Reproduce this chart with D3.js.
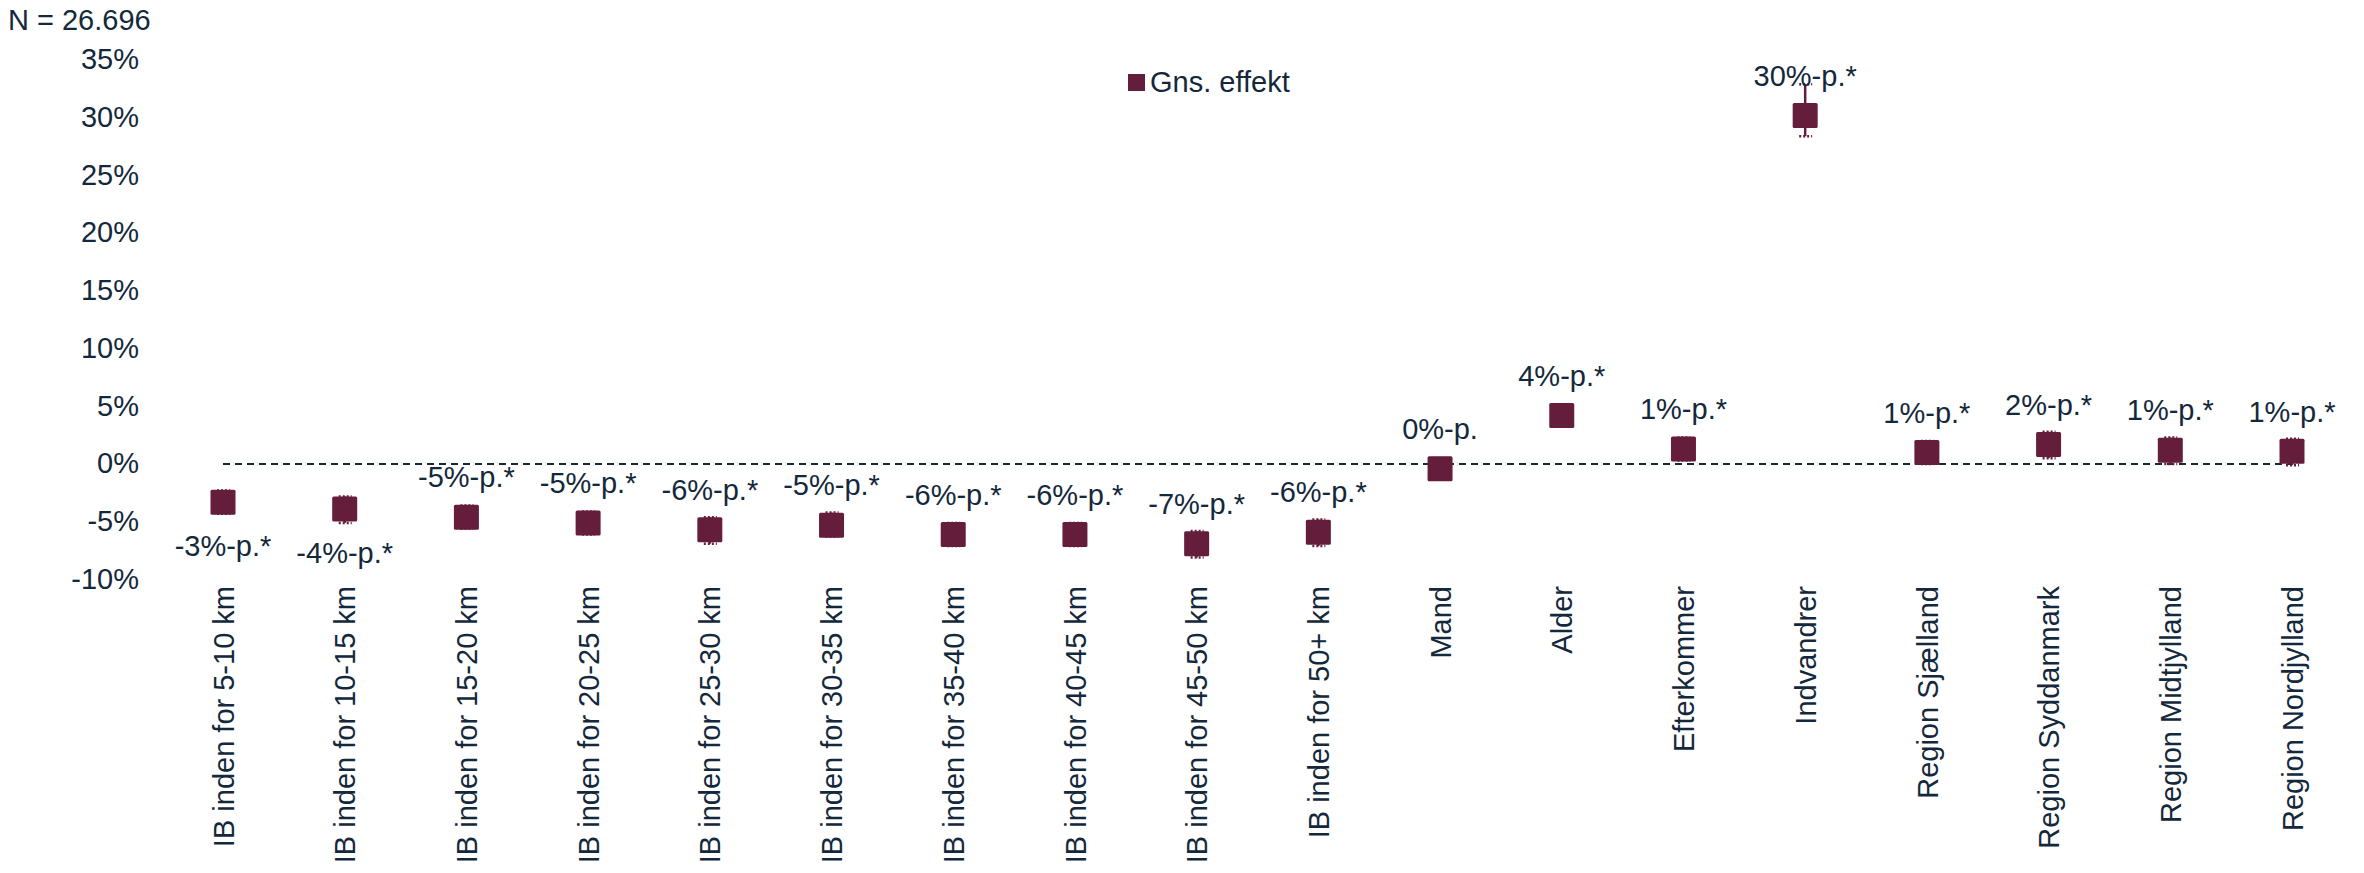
<!DOCTYPE html>
<html>
<head>
<meta charset="utf-8">
<script src="https://cdn.jsdelivr.net/npm/d3@7"></script>
<style>
  html, body { margin: 0; padding: 0; background: #ffffff; }
  svg { display: block; font-family: "Liberation Sans", Arial, sans-serif; }
</style>
</head>
<body>
<svg id="chart" width="2364" height="873"></svg>
<script>
// ---- data ----
const categories = [
  "IB inden for 5-10 km", "IB inden for 10-15 km", "IB inden for 15-20 km",
  "IB inden for 20-25 km", "IB inden for 25-30 km", "IB inden for 30-35 km",
  "IB inden for 35-40 km", "IB inden for 40-45 km", "IB inden for 45-50 km",
  "IB inden for 50+ km", "Mand", "Alder", "Efterkommer", "Indvandrer",
  "Region Sjælland", "Region Syddanmark", "Region Midtjylland", "Region Nordjylland"
];
const effect = [-3.3, -3.9, -4.6, -5.1, -5.7, -5.3, -6.1, -6.1, -6.9, -5.9, -0.4, 4.2, 1.3, 30.2, 1.0, 1.7, 1.2, 1.1];
const ciLower = [-4.3, -5.1, -5.6, -6.1, -6.9, -6.3, -7.1, -7.1, -8.1, -7.1, -1.3, 3.3, 0.3, 28.4, 0.0, 0.5, 0.0, -0.1];
const ciUpper = [-2.3, -2.8, -3.6, -4.1, -4.6, -4.2, -5.1, -5.1, -5.8, -4.8, 0.5, 5.1, 2.3, 32.9, 2.0, 2.8, 2.3, 2.2];
const dataLabels = ["-3%-p.*", "-4%-p.*", "-5%-p.*", "-5%-p.*", "-6%-p.*", "-5%-p.*", "-6%-p.*", "-6%-p.*", "-7%-p.*", "-6%-p.*", "0%-p.", "4%-p.*", "1%-p.*", "30%-p.*", "1%-p.*", "2%-p.*", "1%-p.*", "1%-p.*"];
const labelBelow = [true, true, false, false, false, false, false, false, false, false, false, false, false, false, false, false, false, false];
const yTicks = [-10, -5, 0, 5, 10, 15, 20, 25, 30, 35];
const seriesName = "Gns. effekt";
const nLabel = "N = 26.696";

// ---- styles ----
const TEXT = "#14283c";
const MARK = "#641e3c";
const FS = 29;
const MS = 25;

const svg = d3.select("#chart");

const x = d3.scalePoint().domain(categories).range([223, 2292]);
const y = d3.scaleLinear().domain([-10, 35]).range([579.5, 60]);

// N label
svg.append("text").attr("x", 8).attr("y", 20).attr("dy", "0.35em")
  .attr("fill", TEXT).attr("font-size", FS).text(nLabel);

// y axis (labels only)
const yAxis = d3.axisLeft(y).tickValues(yTicks).tickFormat(d => d + "%").tickSize(0).tickPadding(0);
const gy = svg.append("g").attr("transform", "translate(139,0)").call(yAxis);
gy.select(".domain").remove();
gy.selectAll("text").attr("fill", TEXT).attr("font-size", FS).attr("dy", "0.3em")
  .attr("font-family", "Liberation Sans, Arial, sans-serif");

// x axis (rotated labels only)
const xAxis = d3.axisBottom(x).tickSize(0).tickPadding(0);
const gx = svg.append("g").attr("transform", "translate(0,586)").call(xAxis);
gx.select(".domain").remove();
gx.selectAll("text")
  .attr("fill", TEXT).attr("font-size", FS)
  .attr("font-family", "Liberation Sans, Arial, sans-serif")
  .attr("transform", "rotate(-90)")
  .attr("text-anchor", "end")
  .attr("x", 0).attr("y", 0).attr("dy", "0.35em");

// zero line
svg.append("line")
  .attr("x1", x(categories[0])).attr("x2", x(categories[categories.length - 1]))
  .attr("y1", y(0)).attr("y2", y(0))
  .attr("stroke", TEXT).attr("stroke-width", 2).attr("stroke-dasharray", "7,5");

const pts = categories.map((c, i) => ({ c, v: effect[i], lo: ciLower[i], hi: ciUpper[i], lab: dataLabels[i], below: labelBelow[i] }));

// error bars
const eb = svg.append("g").selectAll("g").data(pts).join("g");
eb.append("line")
  .attr("x1", d => x(d.c)).attr("x2", d => x(d.c))
  .attr("y1", d => y(d.hi)).attr("y2", d => y(d.lo))
  .attr("stroke", MARK).attr("stroke-width", 2.5);
eb.selectAll(".cap").data(d => [{ c: d.c, v: d.hi }, { c: d.c, v: d.lo }]).join("line")
  .attr("class", "cap")
  .attr("x1", d => x(d.c) - 6).attr("x2", d => x(d.c) + 7)
  .attr("y1", d => y(d.v)).attr("y2", d => y(d.v))
  .attr("stroke", MARK).attr("stroke-width", 2.5).attr("stroke-dasharray", "2,2");

// markers
svg.append("g").selectAll("rect").data(pts).join("rect")
  .attr("x", d => x(d.c) - MS / 2).attr("y", d => y(d.v) - MS / 2)
  .attr("width", MS).attr("height", MS).attr("rx", 1.5)
  .attr("fill", MARK);

// data labels
svg.append("g").selectAll("text").data(pts).join("text")
  .attr("x", d => x(d.c))
  .attr("y", d => d.below ? y(d.v) + 44 : y(d.v) - 40)
  .attr("dy", "0.35em")
  .attr("text-anchor", "middle")
  .attr("fill", TEXT).attr("font-size", FS)
  .text(d => d.lab);

// legend
const lg = svg.append("g").attr("transform", "translate(1128,82)");
lg.append("rect").attr("x", 0).attr("y", -8).attr("width", 17).attr("height", 17).attr("fill", MARK);
lg.append("text").attr("x", 22).attr("y", 0).attr("dy", "0.35em")
  .attr("fill", TEXT).attr("font-size", FS).text(seriesName);
</script>
</body>
</html>
